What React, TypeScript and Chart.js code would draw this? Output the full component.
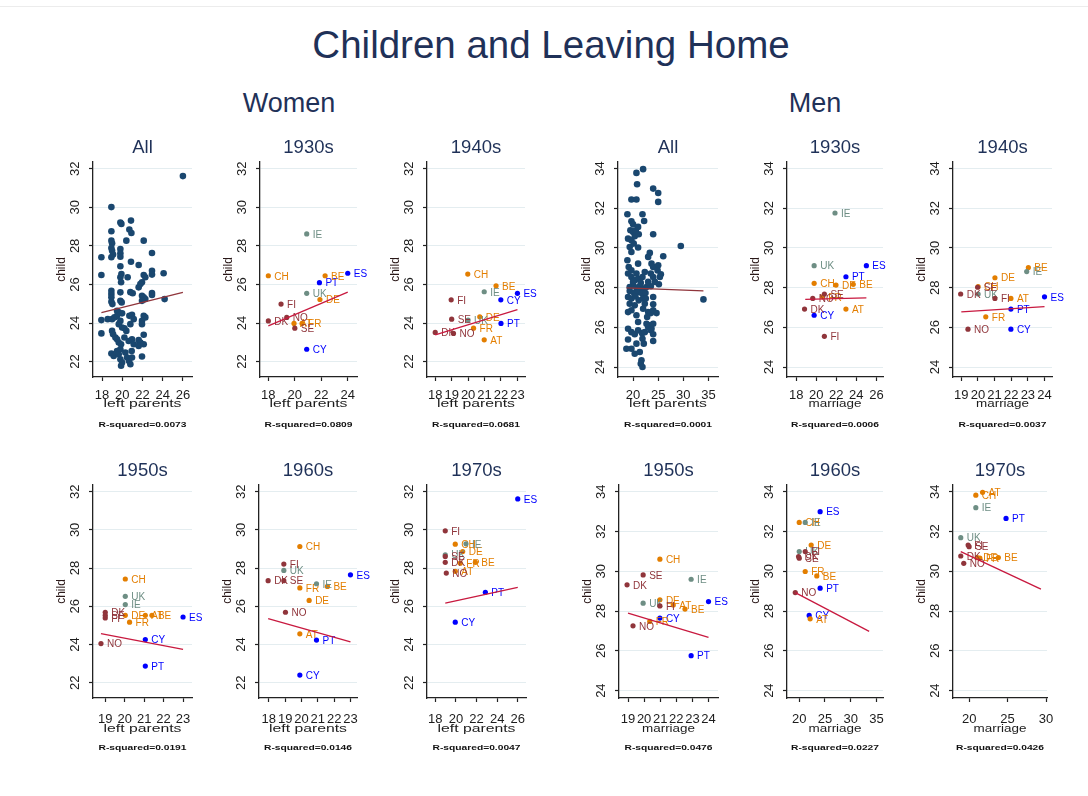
import React, { useEffect, useRef } from 'react';
import { Chart, registerables } from 'chart.js';

Chart.register(...registerables);

const FONT = '"Liberation Sans", Arial, Helvetica, sans-serif';
const HEAD_COLOR = '#1f3158';
const TEXT_COLOR = '#1c1c1c';

// Country codes; every decade array below follows this order (null = not observed)
const countries = ['AT', 'BE', 'CH', 'CY', 'DE', 'DK', 'ES', 'FI', 'FR', 'IE', 'NO', 'PT', 'SE', 'UK'];

// Welfare-regime group of each country, and the colour used for its marker and label
const regimeOf: Record<string, string> = {
  AT: 'continental', BE: 'continental', CH: 'continental', DE: 'continental', FR: 'continental',
  DK: 'nordic', FI: 'nordic', NO: 'nordic', SE: 'nordic',
  IE: 'liberal', UK: 'liberal',
  CY: 'southern', ES: 'southern', PT: 'southern',
};
const regimes = ['nordic', 'liberal', 'continental', 'southern'];
const regimeColors: Record<string, string> = {
  nordic: '#90353b',
  liberal: '#6e8e84',
  continental: '#e37e00',
  southern: '#0000ff',
};

// ---- Women: age at leaving parents (x) vs age at first child (y) ----
const womenAllX = [
  26.0, 18.92, 19.81, 19.91, 20.86, 20.7, 20.9, 18.92, 18.92, 18.99, 20.4, 22.12, 18.92, 18.99, 19.09,
  19.81, 19.81, 19.81, 17.93, 18.92, 22.94, 20.86, 21.62, 19.81, 19.91, 19.81, 19.88, 20.53, 17.93, 22.94,
  22.94, 24.09, 22.12, 22.28, 21.95, 21.79, 21.62, 18.92, 18.92, 18.92, 18.92, 19.02, 19.81, 19.81, 19.94,
  20.8, 21.03, 22.94, 22.94, 21.95, 22.12, 22.28, 21.95, 24.19, 19.48, 19.65, 19.98, 17.93, 18.56, 18.99,
  19.22, 19.48, 19.81, 19.65, 19.98, 20.21, 20.4, 20.7, 20.96, 21.13, 20.8, 22.12, 22.28, 21.95, 21.95,
  17.93, 18.99, 19.09, 19.32, 19.48, 19.65, 19.88, 19.81, 20.21, 20.63, 20.96, 21.13, 21.62, 21.79, 21.62,
  22.12, 22.12, 18.92, 19.15, 19.48, 19.65, 19.81, 19.98, 19.88, 20.3, 20.47, 20.67, 20.8, 20.93, 20.96,
  21.95,
];
const womenAllY = [
  31.62, 30.01, 29.21, 29.14, 29.31, 28.85, 28.67, 28.76, 28.27, 28.14, 28.27, 28.27, 27.89, 27.75, 27.55,
  27.84, 27.62, 27.44, 27.41, 27.41, 27.63, 27.18, 27.01, 26.94, 26.54, 26.37, 26.11, 26.37, 26.49, 26.71,
  26.51, 26.58, 26.49, 26.37, 26.11, 26.02, 25.85, 25.67, 25.5, 25.33, 25.1, 24.98, 25.59, 25.15, 25.07,
  25.6, 25.54, 25.55, 25.45, 25.41, 25.33, 25.24, 25.15, 25.24, 24.63, 24.55, 24.5, 24.15, 24.2, 24.2,
  24.29, 24.37, 24.11, 23.94, 23.77, 23.73, 23.59, 24.37, 24.43, 24.2, 23.94, 24.37, 24.29, 24.11, 23.94,
  23.46, 23.59, 23.42, 23.25, 23.16, 22.99, 22.9, 22.64, 23.25, 23.07, 23.16, 22.9, 23.11, 22.99, 22.81,
  23.39, 22.9, 22.42, 22.29, 22.55, 22.38, 22.12, 21.95, 21.78, 22.47, 22.21, 22.03, 21.86, 22.55, 22.21,
  22.26,
];
//                AT     BE     CH     CY     DE     DK     ES     FI     FR     IE     NO     PT     SE     UK
const women1930X = [19.94, 22.29, 18.0, 20.9, 21.9, 18.0, 24.0, 18.96, 20.55, 20.9, 19.39, 21.86, 20.0, 20.9];
const women1930Y = [23.98, 26.45, 26.45, 22.64, 25.22, 24.11, 26.58, 24.98, 23.98, 28.62, 24.29, 26.09, 23.73, 25.54];
const women1940X = [20.98, 21.7, 19.98, 21.99, 20.71, 18.0, 23.0, 18.97, 20.33, 20.98, 19.11, 22.0, 19.0, 20.0];
const women1940Y = [23.13, 25.93, 26.54, 25.2, 24.32, 23.51, 25.54, 25.2, 23.73, 25.62, 23.46, 23.98, 24.2, 24.15];
const women1950X = [21.06, 21.4, 20.03, 21.06, 20.03, 19.0, 23.0, 19.0, 20.25, 20.03, 18.78, 21.06, 19.0, 20.03];
const women1950Y = [25.53, 25.53, 27.43, 24.26, 25.53, 25.69, 25.44, 25.39, 25.17, 26.09, 24.05, 22.87, 25.53, 26.52];
const women1960X = [19.9, 21.59, 19.9, 19.9, 20.47, 17.96, 23.0, 18.92, 19.9, 20.92, 19.02, 20.92, 18.92, 18.92];
const women1960Y = [24.56, 27.04, 29.13, 22.4, 26.31, 27.34, 27.65, 28.21, 26.96, 27.18, 25.69, 24.23, 27.34, 27.88];
const women1970X = [19.94, 21.89, 19.94, 19.94, 20.66, 18.97, 26.0, 18.97, 20.43, 20.98, 19.07, 22.86, 18.97, 18.97];
const women1970Y = [27.83, 28.3, 29.25, 25.17, 28.87, 28.3, 31.62, 29.95, 28.26, 29.27, 27.74, 26.73, 28.61, 28.7];

// ---- Men: age at leaving parents / marriage (x) vs age at first child (y) ----
const menAllX = [
  22.0, 20.67, 20.8, 24.0, 25.0, 25.0, 19.67, 20.67, 18.87, 21.87, 22.2, 19.67, 20.0, 19.47, 20.0,
  20.53, 21.0, 20.33, 21.13, 19.0, 19.67, 24.0, 29.5, 21.0, 19.67, 23.33, 23.0, 26.0, 18.87, 19.13,
  19.67, 21.0, 23.67, 24.0, 25.0, 24.87, 25.53, 19.0, 19.67, 20.33, 21.0, 21.87, 22.33, 23.53, 24.0,
  24.33, 25.33, 25.13, 19.33, 20.0, 20.67, 21.33, 22.0, 22.67, 23.53, 19.33, 20.2, 21.0, 21.8, 22.47,
  19.0, 19.67, 20.47, 21.13, 22.0, 24.0, 34.0, 19.33, 20.33, 22.33, 24.0, 19.67, 20.67, 22.0, 23.0,
  23.53, 24.0, 24.67, 19.0, 19.67, 20.33, 21.0, 21.8, 22.33, 23.0, 23.33, 23.67, 24.0, 23.53, 24.0,
  24.0, 21.87, 22.13, 19.0, 20.67, 19.67, 20.33, 21.33, 21.67, 21.53, 21.87, 18.67, 22.67, 22.8, 20.0,
  21.53, 20.67, 23.0, 22.53, 19.0, 21.0, 19.33, 20.13,
];
const menAllY = [
  33.97, 33.78, 33.21, 32.99, 32.77, 32.32, 32.44, 32.44, 31.7, 31.7, 31.36, 31.34, 31.19, 30.89, 30.81,
  30.89, 31.06, 30.59, 30.69, 30.47, 30.39, 30.69, 30.1, 30.02, 29.8, 29.75, 29.55, 29.58, 29.38, 29.04,
  28.87, 29.21, 29.21, 29.04, 29.13, 28.87, 28.67, 28.71, 28.54, 28.37, 28.45, 28.54, 28.79, 28.71, 28.54,
  28.29, 28.54, 28.17, 28.03, 28.12, 28.0, 28.07, 27.95, 28.03, 28.07, 27.83, 27.73, 27.78, 27.7, 27.73,
  27.53, 27.45, 27.56, 27.36, 27.45, 27.53, 27.41, 27.19, 27.11, 27.19, 27.16, 26.86, 26.61, 26.94, 26.77,
  26.72, 26.86, 26.72, 25.93, 25.76, 25.65, 25.85, 25.71, 25.76, 26.02, 26.1, 25.93, 26.18, 25.85, 25.65,
  25.31, 25.43, 25.18, 25.39, 25.18, 24.92, 24.67, 24.76, 24.34, 24.17, 24.0, 24.92, 26.18, 26.52, 28.29,
  28.24, 28.71, 28.29, 27.45, 26.77, 26.27, 30.05, 30.22,
];
//              AT     BE     CH     CY     DE     DK     ES     FI     FR     IE     NO     PT     SE     UK
const men1930X = [22.96, 23.69, 19.79, 19.79, 21.97, 18.83, 25.0, 20.81, 20.61, 21.87, 19.65, 22.96, 20.81, 19.79];
const men1930Y = [26.92, 28.17, 28.22, 26.61, 28.13, 26.92, 29.11, 25.55, 27.54, 31.76, 27.46, 28.55, 27.68, 29.11];
const men1940X = [21.98, 23.03, 20.01, 21.98, 21.02, 18.96, 24.0, 21.02, 20.47, 22.93, 19.4, 21.98, 19.98, 20.01];
const men1940Y = [27.46, 29.01, 28.05, 25.91, 28.5, 27.68, 27.54, 27.46, 26.53, 28.81, 25.91, 26.92, 28.02, 27.68];
const men1950X = [21.81, 22.54, 20.98, 20.98, 20.98, 18.94, 24.0, 20.98, 20.35, 22.92, 19.31, 22.92, 19.94, 19.94];
const men1950Y = [28.31, 28.1, 30.61, 27.65, 28.57, 29.32, 28.48, 28.26, 27.48, 29.6, 27.26, 25.76, 29.82, 28.4];
const men1960X = [22.12, 23.41, 20.0, 21.93, 22.32, 19.87, 24.06, 21.16, 21.16, 21.16, 19.23, 24.06, 20.0, 20.0];
const men1960Y = [27.61, 29.77, 32.46, 27.78, 31.32, 30.74, 33.0, 30.99, 29.99, 32.46, 28.93, 29.15, 30.66, 30.99];
const men1970X = [21.75, 23.8, 20.87, null, 21.05, 18.91, null, 19.87, 21.4, 20.87, 19.3, 24.8, 20.0, 18.91];
const men1970Y = [33.97, 30.69, 33.83, null, 30.69, 30.77, null, 31.32, 30.66, 33.2, 30.4, 32.66, 31.24, 31.69];

// Linear-fit end points [x0, y0, x1, y1] and the R-squared of each fit
const womenAllFit = [17.93, 24.54, 26.0, 25.59];
const women1930Fit = [18.0, 23.85, 24.0, 25.6];
const women1940Fit = [18.0, 23.39, 23.0, 24.69];
const women1950Fit = [18.78, 24.57, 23.0, 23.74];
const women1960Fit = [17.96, 25.36, 23.0, 24.14];
const women1970Fit = [18.97, 26.17, 26.0, 26.99];
const menAllFit = [18.67, 27.99, 34.0, 27.84];
const men1930Fit = [18.9, 27.41, 25.0, 27.49];
const men1940Fit = [19.0, 26.78, 24.0, 27.04];
const men1950Fit = [19.0, 27.9, 24.0, 26.68];
const men1960Fit = [19.23, 28.93, 33.59, 26.98];
const men1970Fit = [18.91, 30.99, 29.34, 29.1];

const rSquaredWomen = ['0.0073', '0.0809', '0.0681', '0.0191', '0.0146', '0.0047'];
const rSquaredMen = ['0.0001', '0.0006', '0.0037', '0.0476', '0.0227', '0.0426'];

// Axis tick labels
const womenYTicks = [22, 24, 26, 28, 30, 32];
const menYTicks = [24, 26, 28, 30, 32, 34];
const ticksEven18to26 = [18, 20, 22, 24, 26];
const ticksEven18to24 = [18, 20, 22, 24];
const ticks18to23 = [18, 19, 20, 21, 22, 23];
const ticks19to23 = [19, 20, 21, 22, 23];
const ticks19to24 = [19, 20, 21, 22, 23, 24];
const ticksBy5to35 = [20, 25, 30, 35];
const ticksBy5to30 = [20, 25, 30];

type Row = { top: number; h: number; tickOff: number; titleOff: number; r2Off: number };
const ROW_TOP: Row = { top: 162, h: 215, tickOff: 21.5, titleOff: 30, r2Off: 49.5 };
const ROW_BOTTOM: Row = { top: 485, h: 213, tickOff: 24.5, titleOff: 33.5, r2Off: 52 };

type PanelDef = {
  key: string;
  title: string;
  xTitle: string;
  r2: string;
  left: number;
  w: number;
  row: Row;
  xRange: number[];
  yRange: number[];
  xTicks: number[];
  yTicks: number[];
  fit: number[];
  allX?: number[];
  allY?: number[];
  x?: (number | null)[];
  y?: (number | null)[];
};

const womenTopY = [21.2, 32.35];
const menTopY = [23.5, 34.33];
const menBottomY = [23.63, 34.34];

const panels: PanelDef[] = [
  { key: 'wAll', title: 'All', xTitle: 'left parents', r2: rSquaredWomen[0], left: 93, w: 99, row: ROW_TOP, xRange: [17.1, 26.9], yRange: womenTopY, xTicks: ticksEven18to26, yTicks: womenYTicks, fit: womenAllFit, allX: womenAllX, allY: womenAllY },
  { key: 'w1930', title: '1930s', xTitle: 'left parents', r2: rSquaredWomen[1], left: 260, w: 97, row: ROW_TOP, xRange: [17.37, 24.7], yRange: womenTopY, xTicks: ticksEven18to24, yTicks: womenYTicks, fit: women1930Fit, x: women1930X, y: women1930Y },
  { key: 'w1940', title: '1940s', xTitle: 'left parents', r2: rSquaredWomen[2], left: 427, w: 98, row: ROW_TOP, xRange: [17.5, 23.46], yRange: womenTopY, xTicks: ticks18to23, yTicks: womenYTicks, fit: women1940Fit, x: women1940X, y: women1940Y },
  { key: 'mAll', title: 'All', xTitle: 'left parents', r2: rSquaredMen[0], left: 618, w: 100, row: ROW_TOP, xRange: [17.0, 36.9], yRange: menTopY, xTicks: ticksBy5to35, yTicks: menYTicks, fit: menAllFit, allX: menAllX, allY: menAllY },
  { key: 'm1930', title: '1930s', xTitle: 'marriage', r2: rSquaredMen[1], left: 787, w: 96, row: ROW_TOP, xRange: [17.08, 26.66], yRange: menTopY, xTicks: ticksEven18to26, yTicks: menYTicks, fit: men1930Fit, x: men1930X, y: men1930Y },
  { key: 'm1940', title: '1940s', xTitle: 'marriage', r2: rSquaredMen[2], left: 953, w: 99, row: ROW_TOP, xRange: [18.5, 24.45], yRange: menTopY, xTicks: ticks19to24, yTicks: menYTicks, fit: men1940Fit, x: men1940X, y: men1940Y },
  { key: 'w1950', title: '1950s', xTitle: 'left parents', r2: rSquaredWomen[3], left: 93, w: 99, row: ROW_BOTTOM, xRange: [18.37, 23.46], yRange: womenTopY, xTicks: ticks19to23, yTicks: womenYTicks, fit: women1950Fit, x: women1950X, y: women1950Y },
  { key: 'w1960', title: '1960s', xTitle: 'left parents', r2: rSquaredWomen[4], left: 259, w: 98, row: ROW_BOTTOM, xRange: [17.4, 23.4], yRange: womenTopY, xTicks: ticks18to23, yTicks: womenYTicks, fit: women1960Fit, x: women1960X, y: women1960Y },
  { key: 'w1970', title: '1970s', xTitle: 'left parents', r2: rSquaredWomen[5], left: 427, w: 99, row: ROW_BOTTOM, xRange: [17.2, 26.8], yRange: womenTopY, xTicks: ticksEven18to26, yTicks: womenYTicks, fit: women1970Fit, x: women1970X, y: women1970Y },
  { key: 'm1950', title: '1950s', xTitle: 'marriage', r2: rSquaredMen[3], left: 619, w: 99, row: ROW_BOTTOM, xRange: [18.44, 24.59], yRange: menBottomY, xTicks: ticks19to24, yTicks: menYTicks, fit: men1950Fit, x: men1950X, y: men1950Y },
  { key: 'm1960', title: '1960s', xTitle: 'marriage', r2: rSquaredMen[4], left: 787, w: 96, row: ROW_BOTTOM, xRange: [17.62, 36.28], yRange: menBottomY, xTicks: ticksBy5to35, yTicks: menYTicks, fit: men1960Fit, x: men1960X, y: men1960Y },
  { key: 'm1970', title: '1970s', xTitle: 'marriage', r2: rSquaredMen[5], left: 953, w: 94, row: ROW_BOTTOM, xRange: [17.9, 30.13], yRange: menBottomY, xTicks: ticksBy5to30, yTicks: menYTicks, fit: men1970Fit, x: men1970X, y: men1970Y },
];

// Canvas margins around the plot region
const PAD_LEFT = 48;
const PAD_TOP = 30;
const PAD_RIGHT = 20;
const PAD_BOTTOM = 58;

// Draws text, optionally squeezed/stretched horizontally to a given width
function drawText(
  ctx: CanvasRenderingContext2D,
  text: string,
  x: number,
  y: number,
  font: string,
  color: string,
  width?: number,
) {
  ctx.save();
  ctx.font = font;
  ctx.fillStyle = color;
  ctx.textAlign = 'center';
  ctx.textBaseline = 'alphabetic';
  ctx.translate(x, y);
  if (width) {
    const natural = ctx.measureText(text).width;
    ctx.scale(width / natural, 1);
  }
  ctx.fillText(text, 0, 0);
  ctx.restore();
}

function Panel({ p }: { p: PanelDef }) {
  const ref = useRef<HTMLCanvasElement>(null);
  const cw = p.w + PAD_LEFT + PAD_RIGHT;
  const ch = p.row.h + PAD_TOP + PAD_BOTTOM;

  useEffect(() => {
    const canvas = ref.current;
    if (!canvas) return;
    const isAll = !!p.allX;
    const datasets: any[] = [
      {
        // fit line first so that it is painted on top
        data: [
          { x: p.fit[0], y: p.fit[1] },
          { x: p.fit[2], y: p.fit[3] },
        ],
        showLine: true,
        borderColor: isAll ? '#90353b' : '#c8193f',
        borderWidth: 1.3,
        pointRadius: 0,
        fill: false,
      },
    ];
    if (isAll) {
      datasets.push({
        data: p.allX!.map((x, i) => ({ x, y: p.allY![i] })),
        pointRadius: 3.3,
        pointBackgroundColor: '#1a476f',
        pointBorderWidth: 0,
        showLine: false,
      });
    } else {
      regimes.forEach((reg) => {
        const pts: any[] = [];
        const labels: string[] = [];
        countries.forEach((c, i) => {
          const xv = p.x![i];
          const yv = p.y![i];
          if (regimeOf[c] === reg && xv != null && yv != null) {
            pts.push({ x: xv, y: yv });
            labels.push(c);
          }
        });
        datasets.push({
          data: pts,
          pointRadius: 2.6,
          pointBackgroundColor: regimeColors[reg],
          pointBorderWidth: 0,
          showLine: false,
          countryLabels: labels,
          labelColor: regimeColors[reg],
        });
      });
    }

    const row = p.row;
    const textPlugin = {
      id: 'panelText',
      afterDatasetDraw(chart: any, args: any) {
        const ds = chart.data.datasets[args.index];
        if (!ds.countryLabels) return;
        const ctx = chart.ctx as CanvasRenderingContext2D;
        ctx.save();
        ctx.font = `10px ${FONT}`;
        ctx.fillStyle = ds.labelColor;
        ctx.textAlign = 'left';
        ctx.textBaseline = 'middle';
        args.meta.data.forEach((el: any, i: number) => {
          ctx.fillText(ds.countryLabels[i], el.x + 6, el.y + 1);
        });
        ctx.restore();
      },
      afterDraw(chart: any) {
        const ctx = chart.ctx as CanvasRenderingContext2D;
        const ca = chart.chartArea;
        const xs = chart.scales.x;
        const ys = chart.scales.y;
        const cx = (ca.left + ca.right) / 2;
        const cy = (ca.top + ca.bottom) / 2;

        drawText(ctx, p.title, cx, ca.top - 9, `18.5px ${FONT}`, HEAD_COLOR);

        // vertical y tick labels
        p.yTicks.forEach((v) => {
          const py = ys.getPixelForValue(v);
          ctx.save();
          ctx.translate(ca.left - 14, py);
          ctx.rotate(-Math.PI / 2);
          ctx.font = `13px ${FONT}`;
          ctx.fillStyle = TEXT_COLOR;
          ctx.textAlign = 'center';
          ctx.textBaseline = 'alphabetic';
          ctx.fillText(String(v), 0, 0);
          ctx.restore();
        });

        // y axis title
        ctx.save();
        ctx.translate(ca.left - 28, cy);
        ctx.rotate(-Math.PI / 2);
        ctx.font = `12px ${FONT}`;
        ctx.fillStyle = '#2a1818';
        ctx.textAlign = 'center';
        ctx.textBaseline = 'alphabetic';
        ctx.fillText('child', 0, 0);
        ctx.restore();

        // x tick labels
        p.xTicks.forEach((v) => {
          drawText(ctx, String(v), xs.getPixelForValue(v), ca.bottom + row.tickOff, `13px ${FONT}`, TEXT_COLOR);
        });

        // x axis title and fit statistic
        drawText(ctx, p.xTitle, cx, ca.bottom + row.titleOff, `11.5px ${FONT}`, TEXT_COLOR, p.xTitle === 'marriage' ? 53 : 78);
        drawText(ctx, `R-squared=${p.r2}`, cx, ca.bottom + row.r2Off, `bold 7.5px ${FONT}`, '#111', 88);
      },
    };

    const chart = new Chart(canvas, {
      type: 'scatter',
      data: { datasets },
      options: {
        animation: false,
        responsive: false,
        devicePixelRatio: 1,
        events: [],
        layout: { padding: { left: 0, top: PAD_TOP, right: PAD_RIGHT, bottom: 0 } },
        plugins: { legend: { display: false }, tooltip: { enabled: false }, title: { display: false } },
        scales: {
          x: {
            type: 'linear',
            bounds: 'data',
            min: p.xRange[0],
            max: p.xRange[1],
            afterBuildTicks: (s: any) => {
              s.ticks = p.xTicks.map((v) => ({ value: v }));
            },
            afterFit: (s: any) => {
              s.height = PAD_BOTTOM;
            },
            ticks: { display: false },
            grid: { drawOnChartArea: false, drawTicks: true, tickLength: 4, tickColor: '#222', tickWidth: 1.2 },
            border: { display: true, color: '#222', width: 1.3 },
          },
          y: {
            type: 'linear',
            bounds: 'data',
            min: p.yRange[0],
            max: p.yRange[1],
            afterBuildTicks: (s: any) => {
              s.ticks = p.yTicks.map((v) => ({ value: v }));
            },
            afterFit: (s: any) => {
              s.width = PAD_LEFT;
            },
            ticks: { display: false },
            grid: { color: '#e4edf0', lineWidth: 1, drawTicks: true, tickLength: 4, tickColor: '#222', tickWidth: 1.2 },
            border: { display: true, color: '#222', width: 1.3 },
          },
        },
      } as any,
      plugins: [textPlugin as any],
    });
    return () => chart.destroy();
  }, []);

  return (
    <canvas
      ref={ref}
      width={cw}
      height={ch}
      style={{ position: 'absolute', left: p.left - PAD_LEFT, top: p.row.top - PAD_TOP, width: cw, height: ch }}
    />
  );
}

const headStyle = (size: number): React.CSSProperties => ({
  position: 'absolute',
  fontFamily: FONT,
  fontSize: size,
  lineHeight: 1,
  color: HEAD_COLOR,
  textAlign: 'center',
  whiteSpace: 'nowrap',
});

export default function App() {
  return (
    <div style={{ position: 'absolute', left: 0, top: 0, width: 1088, height: 796, background: '#fff', overflow: 'hidden' }}>
      <div style={{ position: 'absolute', left: 0, top: 6, width: 1088, height: 1, background: '#ececec' }} />
      <div style={{ ...headStyle(38.5), left: 0, width: 1102, top: 25.5 }}>Children and Leaving Home</div>
      <div style={{ ...headStyle(27), left: 189, width: 200, top: 90 }}>Women</div>
      <div style={{ ...headStyle(27), left: 715, width: 200, top: 90 }}>Men</div>
      {panels.map((p) => (
        <Panel key={p.key} p={p} />
      ))}
    </div>
  );
}
